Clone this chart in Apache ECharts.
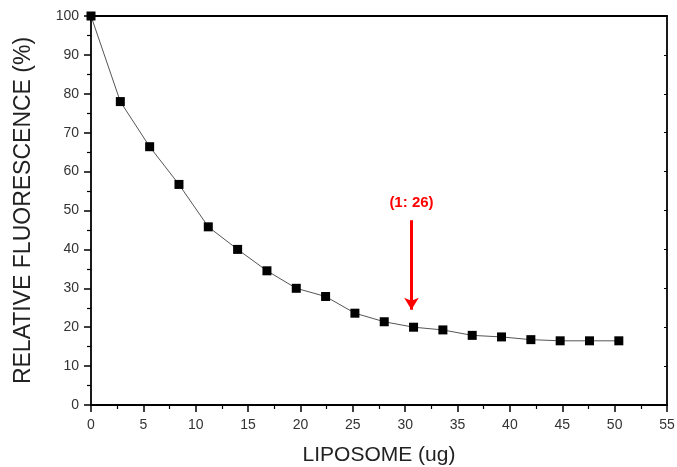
<!DOCTYPE html>
<html><head><meta charset="utf-8">
<script src="https://cdn.jsdelivr.net/npm/echarts@6/dist/echarts.min.js"></script>
<style>html,body{margin:0;padding:0;background:#fff}#c{width:677px;height:467px}</style>
</head><body><div id="c"></div>
<script>
const liposome = [0, 2.8, 5.6, 8.4, 11.2, 14.0, 16.8, 19.6, 22.4, 25.2, 28.0, 30.8, 33.6, 36.4, 39.2, 42.0, 44.8, 47.6, 50.4];
const fluorescence = [100, 78, 66.4, 56.7, 45.8, 40.0, 34.5, 30.0, 27.9, 23.6, 21.4, 20.0, 19.3, 17.9, 17.5, 16.8, 16.5, 16.5, 16.5];
const xTicks = {min: 0, max: 55, interval: 5};
const yTicks = {min: 0, max: 100, interval: 10};
const annotationText = '(1: 26)';
const annotationArrow = [[30.6, 47.5], [30.6, 24.5]];

const chart = echarts.init(document.getElementById('c'), null, {renderer: 'canvas'});
const font = 'Liberation Sans, Arial, sans-serif';
chart.setOption({
  animation: false,
  backgroundColor: '#fff',
  grid: {left: 91, right: 10, top: 16, bottom: 62, containLabel: false, outerBoundsMode: 'none'},
  xAxis: [{
    type: 'value', min: xTicks.min, max: xTicks.max, interval: xTicks.interval,
    name: 'LIPOSOME (ug)', nameLocation: 'middle', nameGap: 40,
    nameTextStyle: {fontFamily: font, fontSize: 21, color: '#222'},
    axisLine: {onZero: false, lineStyle: {color: '#000', width: 1.8}},
    axisTick: {inside: false, length: 7, lineStyle: {color: '#000', width: 1.5}},
    minorTick: {show: true, splitNumber: 2, length: 4, lineStyle: {color: '#000', width: 1.2}},
    axisLabel: {fontFamily: font, fontSize: 14, color: '#333', margin: 13},
    splitLine: {show: false}
  }, {
    type: 'value', position: 'top', min: xTicks.min, max: xTicks.max, interval: xTicks.interval,
    axisLine: {onZero: false, lineStyle: {color: '#000', width: 1.8}},
    axisTick: {show: false}, axisLabel: {show: false}, splitLine: {show: false}
  }],
  yAxis: [{
    type: 'value', min: yTicks.min, max: yTicks.max, interval: yTicks.interval,
    name: 'RELATIVE FLUORESCENCE (%)', nameLocation: 'middle', nameGap: 56,
    nameTextStyle: {fontFamily: font, fontSize: 23, color: '#222'},
    axisLine: {show: true, onZero: false, lineStyle: {color: '#000', width: 1.8}},
    axisTick: {show: true, inside: false, length: 7, lineStyle: {color: '#000', width: 1.5}},
    minorTick: {show: true, splitNumber: 2, length: 4, lineStyle: {color: '#000', width: 1.2}},
    axisLabel: {fontFamily: font, fontSize: 14, color: '#333', margin: 12},
    splitLine: {show: false}
  }, {
    type: 'value', position: 'right', min: yTicks.min, max: yTicks.max, interval: yTicks.interval,
    axisLine: {show: true, onZero: false, lineStyle: {color: '#000', width: 1.8}},
    axisTick: {show: true, inside: true, length: 3, lineStyle: {color: '#000', width: 1}},
    axisLabel: {show: false}, splitLine: {show: false}
  }],
  series: [{
    type: 'line',
    data: liposome.map((x, i) => [x, fluorescence[i]]),
    symbol: 'rect', symbolSize: 9,
    itemStyle: {color: '#000'},
    lineStyle: {color: '#555', width: 1},
    markLine: {
      silent: true, symbol: ['none', 'arrow'], symbolSize: [11, 12],
      lineStyle: {color: '#f00', width: 3, type: 'solid'},
      label: {show: true, position: 'start', formatter: annotationText, color: '#f00',
              fontFamily: font, fontWeight: 'bold', fontSize: 15, distance: 10},
      data: [[{coord: annotationArrow[0]}, {coord: annotationArrow[1]}]]
    }
  }]
});
</script></body></html>
